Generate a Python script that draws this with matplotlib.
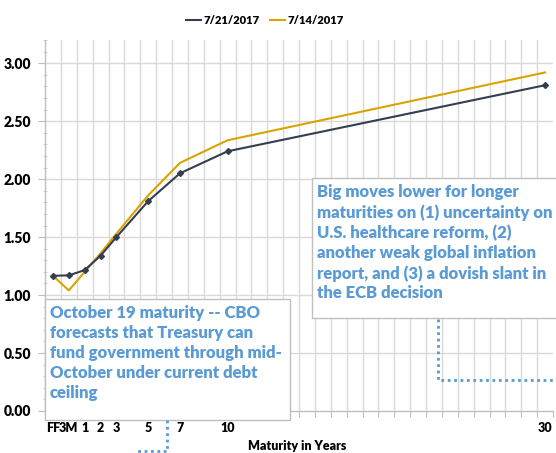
import matplotlib
matplotlib.use("Agg")
import matplotlib.pyplot as plt
from matplotlib.patches import Rectangle
from matplotlib.lines import Line2D
import numpy as np

plt.rcParams['font.family'] = ['Lato', 'DejaVu Sans']

# Data
maturity_pos = [-1, 0, 1, 2, 3, 5, 7, 10, 30]
maturity_labels = ["FF", "3M", "1", "2", "3", "5", "7", "10", "30"]
yield_0721 = [1.166, 1.17, 1.215, 1.34, 1.50, 1.81, 2.05, 2.24, 2.81]
yield_0714 = [1.166, 1.04, 1.20, 1.36, 1.53, 1.86, 2.14, 2.335, 2.92]
series_labels = ["7/21/2017", "7/14/2017"]

note_right = ("Big moves lower for longer\nmaturities on (1) uncertainty on\n"
              "U.S. healthcare reform, (2)\nanother weak global inflation\n"
              "report, and (3) a dovish slant in\nthe ECB decision")
note_left = ("October 19 maturity -- CBO\nforecasts that Treasury can\n"
             "fund government through mid-\nOctober under current debt\nceiling")

W, H = 556, 453
fig = plt.figure(figsize=(W / 100, H / 100), dpi=100)

def fx(px):
    return px / W

def fy(py):
    return 1 - py / H

L, R, T, B = 45, 553, 40, 411
ax = fig.add_axes([fx(L), fy(B), fx(R) - fx(L), fy(T) - fy(B)])

navy = "#333F50"
gold = "#D9A300"
blue = "#5B9BD5"

ax.set_xlim(-1.5, 30.5)
ax.set_ylim(0, 3.2)

# gridlines
for g in np.arange(-0.5, 30.5, 1.0):
    ax.axvline(g, color="#D9D9D9", lw=1, zorder=0)
for g in np.arange(0.5, 3.01, 0.5):
    ax.axhline(g, color="#D9D9D9", lw=1, zorder=0)

ax.plot(maturity_pos, yield_0721, color=navy, lw=1.5, marker="D", ms=3, zorder=3)
ax.plot(maturity_pos, yield_0714, color=gold, lw=1.5, zorder=2)

for s in ["top", "right"]:
    ax.spines[s].set_visible(False)
for s in ["left", "bottom"]:
    ax.spines[s].set_color("#BFBFBF")
    ax.spines[s].set_linewidth(1)

ax.set_yticks(np.arange(0, 3.01, 0.5))
ax.set_yticklabels([f"{v:.2f}" for v in np.arange(0, 3.01, 0.5)],
                   fontsize=10, fontweight="heavy")
ax.set_yticks(np.arange(0, 3.21, 0.1), minor=True)
ax.tick_params(axis="y", which="major", length=5, color="#BFBFBF", direction="out", pad=5)
ax.tick_params(axis="y", which="minor", length=3, color="#BFBFBF", direction="inout")

ax.set_xticks(np.arange(-1.5, 30.6, 1.0))
ax.set_xticklabels([])
ax.tick_params(axis="x", which="major", length=4, color="#BFBFBF", direction="out")

for p, lab in zip(maturity_pos, maturity_labels):
    ax.text(p, -0.15, lab, ha="center", va="center", fontsize=9,
            fontweight="heavy", transform=ax.transData, clip_on=False)

fig.text(fx(297), fy(446), "Maturity in Years", ha="center", va="center",
         fontsize=9, fontweight="heavy")

# legend
handles = [Line2D([], [], color=navy, lw=1.5), Line2D([], [], color=gold, lw=1.5)]
fig.legend(handles, series_labels, loc="center", bbox_to_anchor=(fx(265), fy(20)),
           ncol=2, frameon=False, prop={"weight": "heavy", "size": 8},
           handlelength=1.3, handletextpad=0.2, columnspacing=1.0)

# annotation boxes
def box(x0, y0, x1, y1):
    fig.patches.append(Rectangle((fx(x0), fy(y1)), fx(x1) - fx(x0), fy(y0) - fy(y1),
                                 transform=fig.transFigure, facecolor="white",
                                 edgecolor="#BFBFBF", lw=1, zorder=5))

box(312, 178, 560, 318)
fig.text(fx(317), fy(184), note_right, ha="left", va="top", color=blue,
         fontsize=12, fontweight="heavy", linespacing=1.3, zorder=6)

box(45, 299, 290, 420)
fig.text(fx(50), fy(305), note_left, ha="left", va="top", color=blue,
         fontsize=12, fontweight="heavy", linespacing=1.3, zorder=6)

# dotted connectors
dot = dict(color=blue, lw=2, linestyle=(0, (1, 1.3)), transform=fig.transFigure, zorder=6)
fig.lines.append(Line2D([fx(438), fx(438), fx(556)], [fy(319), fy(380), fy(380)], **dot))
fig.lines.append(Line2D([fx(167), fx(167), fx(136)], [fy(420), fy(451), fy(451)], **dot))

fig.savefig("out.png", dpi=100)
